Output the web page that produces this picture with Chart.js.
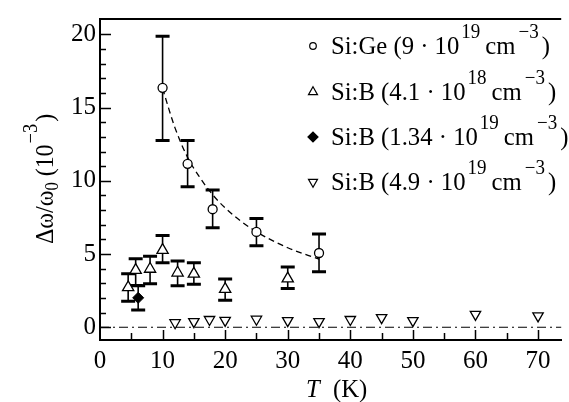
<!DOCTYPE html>
<html><head><meta charset="utf-8">
<script src="https://cdn.jsdelivr.net/npm/chart.js@4.4.1/dist/chart.umd.min.js"></script>
<style>html,body{margin:0;padding:0;background:#fff;}#wrap{width:569px;height:402px;position:relative;}</style>
</head><body><div id="wrap"><canvas id="c" width="569" height="402"></canvas></div>
<script>
// ---- data ----
const geT   = [10, 14, 18, 25, 35];
const geVal = [16.35, 11.16, 8.06, 6.51, 5.07];
const geLo  = [12.76, 9.59, 6.80, 5.56, 3.79];
const geHi  = [19.87, 12.76, 9.37, 7.42, 6.36];

const fitT   = [10, 12, 14, 16, 18, 20, 22.5, 25, 27.5, 30, 32.5, 35];
const fitVal = [16.3, 13.6, 11.6, 10.2, 9.05, 8.15, 7.25, 6.52, 5.93, 5.43, 5.02, 4.66];

const b18T   = [4.5, 5.7, 8, 10, 12.4, 15, 20, 30];
const b18Val = [2.72, 3.90, 3.98, 5.27, 3.72, 3.65, 2.60, 3.32];
const b18Lo  = [1.77, 2.85, 2.97, 4.40, 2.84, 2.94, 1.84, 2.64];
const b18Hi  = [3.65, 4.67, 4.85, 6.27, 4.52, 4.40, 3.30, 4.12];

const b134T   = [6.1];
const b134Val = [2.01];
const b134Lo  = [1.18];
const b134Hi  = [2.84];

const b49T   = [12, 15, 17.5, 20, 25, 30, 35, 40, 45, 50, 60, 70];
const b49Val = [0.31, 0.38, 0.53, 0.47, 0.55, 0.45, 0.38, 0.53, 0.66, 0.45, 0.88, 0.78];

const zeroT   = [0, 74];
const zeroVal = [0, 0];

const xTicks = [0, 10, 20, 30, 40, 50, 60, 70];
const yTicks = [0, 5, 10, 15, 20];

const legendRows = [
  {pre: 'Si:Ge (9 \u00b7 10', exp: '19'},
  {pre: 'Si:B (4.1 \u00b7 10', exp: '18'},
  {pre: 'Si:B (1.34 \u00b7 10', exp: '19'},
  {pre: 'Si:B (4.9 \u00b7 10', exp: '19'}
];
const yTitle = {main: '\u0394\u03c9/\u03c9', sub: '0', mid: ' (10', sup: '\u22123', end: ')'};
const xTitle = {it: 'T', rest: '(K)'};

// ---- helpers ----
const pts = (xs, ys) => xs.map((v, i) => ({x: v, y: ys[i]}));
const FONT = '"Liberation Serif", "Times New Roman", serif';
Chart.defaults.font.family = FONT;
Chart.defaults.font.size = 25;
Chart.defaults.color = '#000';

function txt(ctx, s, x, y, font, sx) {
  ctx.font = font;
  const w = ctx.measureText(s).width * sx;
  ctx.save(); ctx.translate(x, y); ctx.scale(sx, 1); ctx.fillText(s, 0, 0); ctx.restore();
  return w;
}
function txtW(ctx, s, font, sx) { ctx.font = font; return ctx.measureText(s).width * sx; }

const errorSets = [
  {x: geT, lo: geLo, hi: geHi},
  {x: b18T, lo: b18Lo, hi: b18Hi},
  {x: b134T, lo: b134Lo, hi: b134Hi}
];

const errPlugin = {
  id: 'err',
  beforeDatasetsDraw(chart) {
    const {ctx, scales: {x, y}} = chart;
    ctx.save();
    ctx.strokeStyle = '#000';
    errorSets.forEach(s => s.x.forEach((t, i) => {
      const px = x.getPixelForValue(t), pl = y.getPixelForValue(s.lo[i]), ph = y.getPixelForValue(s.hi[i]);
      ctx.lineWidth = 1.6;
      ctx.beginPath(); ctx.moveTo(px, pl); ctx.lineTo(px, ph); ctx.stroke();
      ctx.lineWidth = 3;
      ctx.beginPath();
      ctx.moveTo(px - 7, pl); ctx.lineTo(px + 7, pl);
      ctx.moveTo(px - 7, ph); ctx.lineTo(px + 7, ph);
      ctx.stroke();
    }));
    ctx.restore();
  }
};

const framePlugin = {
  id: 'frame',
  afterDraw(chart) {
    const {ctx, chartArea: a, scales: {x, y}} = chart;
    ctx.save();
    ctx.strokeStyle = '#000';
    ctx.lineWidth = 2;
    ctx.beginPath(); ctx.moveTo(a.left - 1, a.top); ctx.lineTo(a.right, a.top); ctx.stroke();
    ctx.lineWidth = 1.5;
    ctx.beginPath();
    for (let v = 0; v <= 20; v++) {
      const py = Math.round(y.getPixelForValue(v)) + 0.5;
      const len = v % 5 === 0 ? 11 : 6;
      ctx.moveTo(a.left, py); ctx.lineTo(a.left + len, py);
    }
    for (let t = 5; t <= 70; t += 5) {
      const px = Math.round(x.getPixelForValue(t)) + 0.5;
      const len = t % 10 === 0 ? 10 : 7;
      ctx.moveTo(px, a.bottom); ctx.lineTo(px, a.bottom - len);
    }
    ctx.stroke();

    const F = '26px ' + FONT, FS = '20px ' + FONT;
    ctx.textBaseline = 'alphabetic'; ctx.textAlign = 'left';
    ctx.fillStyle = '#000';

    // legend
    const LX = 0.95;
    const mx = 313, tx = 331, rowY = [46, 92, 137, 182];
    const styles = [
      {pointStyle: 'circle', radius: 3.3, rotation: 0, fill: '#fff'},
      {pointStyle: 'triangle', radius: 5.2, rotation: 0, fill: '#fff'},
      {pointStyle: 'rectRot', radius: 5, rotation: 0, fill: '#000'},
      {pointStyle: 'triangle', radius: 5.2, rotation: 180, fill: '#fff'}
    ];
    legendRows.forEach((r, i) => {
      const cy = rowY[i];
      ctx.fillStyle = styles[i].fill; ctx.strokeStyle = '#000'; ctx.lineWidth = 1.2;
      Chart.helpers.drawPoint(ctx, {pointStyle: styles[i].pointStyle, radius: styles[i].radius, rotation: styles[i].rotation, borderWidth: 1.2}, mx, cy);
      ctx.fillStyle = '#000';
      const base = cy + 8;
      let cx = tx;
      cx += txt(ctx, r.pre, cx, base, F, LX) + 2;
      cx += txt(ctx, r.exp, cx, base - 16, FS, LX) + 5;
      cx += txt(ctx, 'cm', cx, base, F, LX) + 3;
      cx += txt(ctx, '\u22123', cx, base - 16, FS, LX) + 3;
      txt(ctx, ')', cx, base, F, LX);
    });

    // y title (rotated)
    const YX = 0.92;
    ctx.save();
    ctx.translate(53, 179);
    ctx.rotate(-Math.PI / 2);
    const FSub = '18px ' + FONT;
    const total = txtW(ctx, yTitle.main, F, YX) + txtW(ctx, yTitle.sub, FSub, YX) + txtW(ctx, yTitle.mid, F, YX) +
                  txtW(ctx, yTitle.sup, FS, YX) + txtW(ctx, yTitle.end, F, YX) + 3;
    let c = -total / 2;
    c += txt(ctx, yTitle.main, c, 0, F, YX);
    c += txt(ctx, yTitle.sub, c, 5, FSub, YX);
    c += txt(ctx, yTitle.mid, c, 0, F, YX) + 1;
    c += txt(ctx, yTitle.sup, c, -16, FS, YX) + 2;
    txt(ctx, yTitle.end, c, 0, F, YX);
    ctx.restore();

    // x title
    txt(ctx, xTitle.it, 306, 397, 'italic 26px ' + FONT, 0.95);
    txt(ctx, xTitle.rest, 333, 397, F, 0.95);
    ctx.restore();
  }
};

new Chart(document.getElementById('c'), {
  type: 'scatter',
  data: {
    datasets: [
      {label: 'Si:Ge', data: pts(geT, geVal), pointStyle: 'circle', pointRadius: 4.5,
       backgroundColor: '#fff', borderColor: '#000', borderWidth: 1.3},
      {label: 'Si:B 4.1e18', data: pts(b18T, b18Val), pointStyle: 'triangle', pointRadius: 6.5,
       backgroundColor: '#fff', borderColor: '#000', borderWidth: 1.3},
      {label: 'Si:B 1.34e19', data: pts(b134T, b134Val), pointStyle: 'rectRot', pointRadius: 5.5,
       backgroundColor: '#000', borderColor: '#000', borderWidth: 1},
      {label: 'Si:B 4.9e19', data: pts(b49T, b49Val), pointStyle: 'triangle', pointRotation: 180, pointRadius: 6,
       backgroundColor: '#fff', borderColor: '#000', borderWidth: 1.3},
      {label: 'fit', data: pts(fitT, fitVal), showLine: true, pointRadius: 0, borderColor: '#000',
       borderWidth: 1.3, borderDash: [6, 4], cubicInterpolationMode: 'monotone', fill: false},
      {label: 'zero', data: pts(zeroT, zeroVal), showLine: true, pointRadius: 0, borderColor: '#000',
       borderWidth: 1.2, borderDash: [9, 4, 2, 4], fill: false}
    ]
  },
  options: {
    responsive: false,
    animation: false,
    devicePixelRatio: 1,
    layout: {padding: {top: 10, right: 0, left: 0, bottom: 0}},
    plugins: {legend: {display: false}, tooltip: {enabled: false}},
    scales: {
      x: {
        type: 'linear', min: 0, max: 73.7,
        afterBuildTicks: s => { s.ticks = xTicks.map(v => ({value: v})); },
        afterFit: s => { s.height = 62; },
        grid: {display: false, drawTicks: false},
        border: {display: true, color: '#000', width: 2},
        ticks: {padding: 6, font: {size: 25, family: FONT}, color: '#000', maxRotation: 0, autoSkip: false}
      },
      y: {
        type: 'linear', min: -0.87, max: 21.05,
        afterBuildTicks: s => { s.ticks = yTicks.map(v => ({value: v})); },
        afterFit: s => { s.width = 100; },
        grid: {display: false, drawTicks: false},
        border: {display: true, color: '#000', width: 2},
        ticks: {padding: 4, font: {size: 25, family: FONT}, color: '#000'}
      }
    }
  },
  plugins: [errPlugin, framePlugin]
});
</script></body></html>
